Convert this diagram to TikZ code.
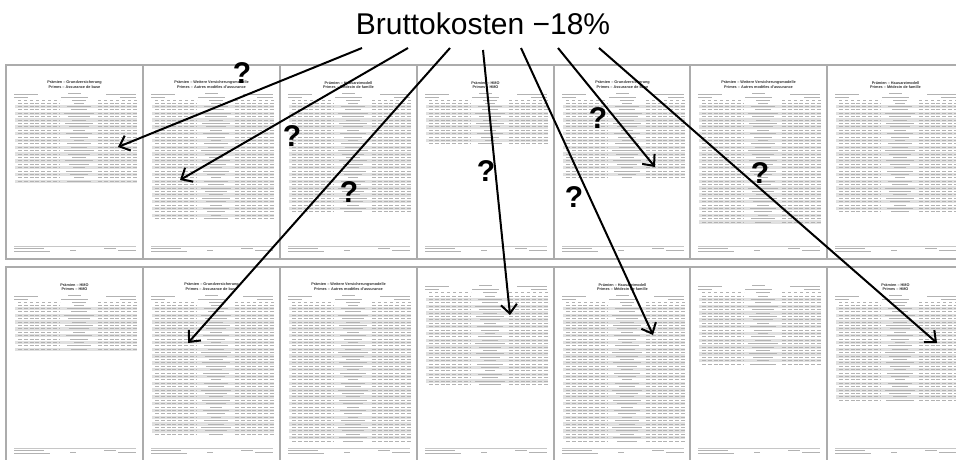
\documentclass[tikz,border=0pt]{standalone}
\usepackage{fontspec}
\setmainfont{Liberation Sans}
\usetikzlibrary{arrows.meta}
\tikzset{
  pageedge/.style={draw=gray!65, line width=1.3pt, fill=white},
  pagetitle/.style={font=\fontsize{3.8}{3.8}\selectfont\bfseries, text=black!80, inner sep=0},
  band/.style={fill=gray!24},
  numstub/.style={draw=gray!60, line width=1pt, dash pattern=on 4pt off 1.8pt},
  labstub/.style={draw=gray!60, line width=1pt},
  hdrstub/.style={draw=gray!60, line width=0.7pt},
  arr/.style={line width=2pt, -{Straight Barb[length=9pt,width=16pt]}},
  qmark/.style={font=\fontsize{30}{30}\selectfont\bfseries, inner sep=0},
  bigtitle/.style={font=\fontsize{30}{30}\selectfont, inner sep=0}
}
% #1 x, #2 top, #3 title1, #4 title2, #5 header offset, #6 rows start, #7 rows end
\newcommand\docpage[7]{%
  \begin{scope}[shift={(#1,#2)}]
    \draw[pageedge] (0,0) rectangle (137,194);
    \node[pagetitle] at (68.5,18) {#3};
    \node[pagetitle] at (68.5,22.5) {#4};
    \draw[hdrstub, line width=1pt] (62,#5) -- (75,#5);
    \draw[hdrstub] (8,#5+1) -- (32,#5+1);
    \draw[hdrstub] (100,#5+1) -- (130,#5+1);
    \draw[hdrstub] (8,#5+4) -- (22,#5+4);
    \draw[hdrstub] (55,#5+4) -- (82,#5+4);
    \draw[hdrstub] (114,#5+4) -- (130,#5+4);
    \draw[hdrstub, dash pattern=on 3pt off 3pt] (12,#5+7.5) -- (54,#5+7.5);
    \draw[hdrstub] (66,#5+7.5) -- (80,#5+7.5);
    \draw[hdrstub, dash pattern=on 3pt off 3pt] (92,#5+7.5) -- (131,#5+7.5);
    \pgfmathtruncatemacro\nrows{(#7-#6)/3.4}
    \foreach \i in {0,...,\nrows}{
      \pgfmathsetmacro\yy{#6+\i*3.4}
      \pgfmathsetmacro\ll{5+mod(\i*7,11)}
      \ifodd\i \fill[band] (9,\yy-1.7) rectangle (131,\yy+1.7); \fi
      \draw[numstub] (12,\yy) -- (54,\yy);
      \draw[labstub] (73-\ll,\yy) -- (73+\ll,\yy);
      \draw[numstub] (92,\yy) -- (131,\yy);
    }
    \draw[gray!45, line width=0.4pt] (8,181) -- (130,181);
    \draw[hdrstub] (8,183.5) -- (38,183.5);
    \draw[hdrstub] (8,186) -- (44,186);
    \draw[hdrstub] (64,185) -- (70,185);
    \draw[hdrstub] (98,183.5) -- (110,183.5);
    \draw[hdrstub] (112,185.5) -- (130,185.5);
  \end{scope}
}
\begin{document}
\begin{tikzpicture}[x=1pt,y=-1pt]
\useasboundingbox (0,0) rectangle (956,460);
\clip (0,0) rectangle (956,460);
\fill[white] (0,0) rectangle (956,460);

% row 1
\docpage{6}{65}{Prämien – Grundversicherung}{Primes – Assurance de base}{28}{38}{117}
\docpage{143}{65}{Prämien – Weitere Versicherungsmodelle}{Primes – Autres modèles d'assurance}{28}{38}{155}
\docpage{280}{65}{Prämien – Hausarztmodell}{Primes – Médecin de famille}{28}{38}{148}
\docpage{417}{65}{Prämien – HMO}{Primes – HMO}{28}{38}{82}
\docpage{554}{65}{Prämien – Grundversicherung}{Primes – Assurance de base}{28}{38}{115}
\docpage{690}{65}{Prämien – Weitere Versicherungsmodelle}{Primes – Autres modèles d'assurance}{28}{38}{157}
\docpage{827}{65}{Prämien – Hausarztmodell}{Primes – Médecin de famille}{28}{38}{148}
% row 2
\docpage{6}{267}{Prämien – HMO}{Primes – HMO}{28}{38}{83}
\docpage{143}{267}{Prämien – Grundversicherung}{Primes – Assurance de base}{28}{38}{170}
\docpage{280}{267}{Prämien – Weitere Versicherungsmodelle}{Primes – Autres modèles d'assurance}{28}{38}{176}
\docpage{417}{267}{}{}{18}{29}{120}
\docpage{554}{267}{Prämien – Hausarztmodell}{Primes – Médecin de famille}{28}{38}{176}
\docpage{690}{267}{}{}{18}{29}{98}
\docpage{827}{267}{Prämien – HMO}{Primes – HMO}{28}{38}{136}

% title
\node[bigtitle, anchor=base] (title) at (483,35) {Bruttokosten −18\%};

% arrow start and end points
\coordinate (s1) at (362,48); \coordinate (e1) at (118,147);
\coordinate (s2) at (408,48); \coordinate (e2) at (180,180);
\coordinate (s3) at (450,48); \coordinate (e3) at (188,343);
\coordinate (s4) at (483,50); \coordinate (e4) at (510,315);
\coordinate (s5) at (521,48); \coordinate (e5) at (653,335);
\coordinate (s6) at (558,48); \coordinate (e6) at (655,167);
\coordinate (s7) at (599,48); \coordinate (e7) at (937,343);
\foreach \k in {1,...,7}{ \draw[arr] (s\k) -- (e\k); }

% question marks
\node[qmark] (q1) at (242,73) {?};
\node[qmark] (q2) at (292,136) {?};
\node[qmark] (q3) at (349,192) {?};
\node[qmark] (q4) at (486,171) {?};
\node[qmark] (q5) at (574,197) {?};
\node[qmark] (q6) at (598,118) {?};
\node[qmark] (q7) at (760,173) {?};
\end{tikzpicture}
\end{document}
